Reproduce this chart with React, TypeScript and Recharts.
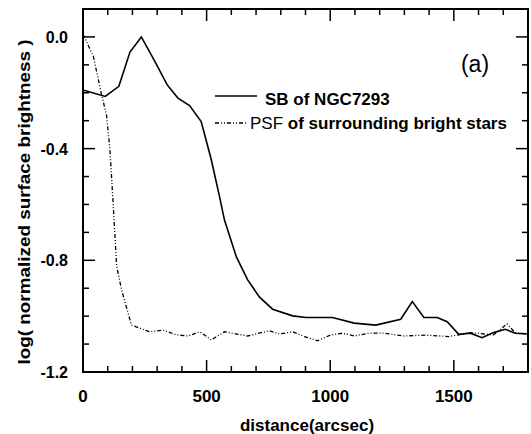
import React from "react";
import { LineChart, Line, XAxis, YAxis } from "recharts";

// SB of NGC7293 (solid)
const sbDist = [0, 90, 145, 190, 236, 290, 340, 384, 431, 478, 519, 552, 572, 620, 666, 714, 767, 848, 902, 1009, 1097, 1184, 1285, 1332, 1379, 1433, 1473, 1520, 1567, 1614, 1661, 1708, 1748, 1800];
const sbVal = [-0.19, -0.213, -0.177, -0.054, 0.0, -0.087, -0.171, -0.219, -0.246, -0.303, -0.44, -0.571, -0.655, -0.787, -0.87, -0.932, -0.975, -0.999, -1.005, -1.005, -1.025, -1.032, -1.011, -0.948, -1.005, -1.005, -1.02, -1.065, -1.061, -1.077, -1.059, -1.047, -1.061, -1.064];

// PSF of surrounding bright stars (dash-dot-dot)
const psfDist = [0, 42, 75, 95, 109, 121, 136, 156, 196, 270, 324, 378, 425, 472, 519, 572, 620, 666, 754, 794, 848, 895, 949, 1003, 1050, 1097, 1157, 1218, 1298, 1386, 1480, 1567, 1661, 1715, 1748, 1800];
const psfVal = [0.01, -0.07, -0.207, -0.279, -0.404, -0.583, -0.82, -0.906, -1.032, -1.056, -1.05, -1.067, -1.071, -1.056, -1.085, -1.056, -1.064, -1.071, -1.052, -1.064, -1.056, -1.073, -1.088, -1.067, -1.061, -1.071, -1.061, -1.061, -1.071, -1.068, -1.073, -1.059, -1.067, -1.028, -1.059, -1.064];

const xTicks = [0, 100, 200, 300, 400, 500, 600, 700, 800, 900, 1000, 1100, 1200, 1300, 1400, 1500, 1600, 1700, 1800];
const xLabels = [0, 500, 1000, 1500];
const yTicks = [-1.2, -1.1, -1.0, -0.9, -0.8, -0.7, -0.6, -0.5, -0.4, -0.3, -0.2, -0.1, 0.0];
const yLabels = ["-1.2", "-0.8", "-0.4", "0.0"];

const sbData = sbDist.map((x, i) => ({ dist: x, val: sbVal[i] }));
const psfData = psfDist.map((x, i) => ({ dist: x, val: psfVal[i] }));

const FONT = "Arial, Liberation Sans, sans-serif";
const X_DOMAIN = [0, 1800];
const Y_DOMAIN = [-1.2, 0.1];

// plot box (also drives the chart margins)
const W = 531;
const H = 434;
const LEFT = 83;
const TOP = 9;
const RIGHT = 528;
const BOTTOM = 372;

const findLabel = (v: number) => yLabels.find((l) => Math.abs(parseFloat(l) - v) < 1e-6);
const xPos = (v: number) => LEFT + ((v - X_DOMAIN[0]) / (X_DOMAIN[1] - X_DOMAIN[0])) * (RIGHT - LEFT);
const yPos = (v: number) => TOP + ((Y_DOMAIN[1] - v) / (Y_DOMAIN[1] - Y_DOMAIN[0])) * (BOTTOM - TOP);

const BottomTick = (props: any) => {
  const { x, y, payload } = props;
  if (!xLabels.includes(payload.value)) return <g />;
  return (
    <text x={x} y={y + 30} textAnchor="middle" fontFamily={FONT} fontWeight="bold" fontSize={17} fill="#000">
      {payload.value}
    </text>
  );
};

const LeftTick = (props: any) => {
  const { x, y, payload } = props;
  const label = findLabel(payload.value);
  if (!label) return <g />;
  return (
    <text x={x - 15} y={y + 6} textAnchor="end" fontFamily={FONT} fontWeight="bold" fontSize={16} fill="#000">
      {label}
    </text>
  );
};

// frame with inward ticks on all four sides, legend, axis titles, panel tag
const Overlay = () => (
  <svg width={W} height={H} style={{ position: "absolute", left: 0, top: 0, pointerEvents: "none" }}>
    <rect x={LEFT} y={TOP} width={RIGHT - LEFT} height={BOTTOM - TOP} fill="none" stroke="#000" strokeWidth={2} />
    {xTicks.map((v) => {
      const px = xPos(v);
      const len = v % 500 === 0 ? 12 : 6;
      return (
        <g key={`x${v}`}>
          <line x1={px} y1={BOTTOM} x2={px} y2={BOTTOM - len} stroke="#000" strokeWidth={1.5} />
          <line x1={px} y1={TOP} x2={px} y2={TOP + len} stroke="#000" strokeWidth={1.5} />
        </g>
      );
    })}
    {yTicks.map((v) => {
      const py = yPos(v);
      const len = findLabel(v) ? 12 : 6;
      return (
        <g key={`y${v}`}>
          <line x1={LEFT} y1={py} x2={LEFT + len} y2={py} stroke="#000" strokeWidth={1.5} />
          <line x1={RIGHT} y1={py} x2={RIGHT - len} y2={py} stroke="#000" strokeWidth={1.5} />
        </g>
      );
    })}
    <line x1={215} y1={96} x2={257} y2={96} stroke="#000" strokeWidth={1.6} />
    <text x={265} y={105} fontFamily={FONT} fontWeight="bold" fontSize={17} fill="#000">
      SB of NGC7293
    </text>
    <line x1={215} y1={123} x2={248} y2={123} stroke="#000" strokeWidth={1.3} strokeDasharray="4 2 1 2 1 2" />
    <text x={250} y={129} fontFamily={FONT} fontSize={17} fill="#000">
      PSF <tspan fontWeight="bold">of surrounding bright stars</tspan>
    </text>
    <text x={475} y={72} textAnchor="middle" fontFamily={FONT} fontSize={23} fill="#000">
      (a)
    </text>
    <text x={307} y={431} textAnchor="middle" fontFamily={FONT} fontWeight="bold" fontSize={17} fill="#000">
      distance(arcsec)
    </text>
    <text
      x={0}
      y={0}
      transform="translate(30, 202) rotate(-90)"
      textAnchor="middle"
      fontFamily={FONT}
      fontWeight="bold"
      fontSize={17}
      textLength={325}
      lengthAdjust="spacingAndGlyphs"
      fill="#000"
    >
      log( normalized surface brightness )
    </text>
  </svg>
);

export default function App() {
  return (
    <div style={{ position: "absolute", left: 0, top: 0, width: W, height: H, background: "#fff" }}>
      <LineChart width={W} height={H} margin={{ top: TOP, right: W - RIGHT, left: 0, bottom: 0 }}>
        <XAxis
          dataKey="dist"
          type="number"
          domain={X_DOMAIN}
          ticks={xTicks}
          height={H - BOTTOM}
          tickSize={0}
          tickMargin={0}
          tickLine={false}
          interval={0}
          axisLine={{ stroke: "#000", strokeWidth: 2 }}
          tick={BottomTick}
        />
        <YAxis
          type="number"
          domain={Y_DOMAIN}
          ticks={yTicks}
          width={LEFT}
          tickSize={0}
          tickMargin={0}
          tickLine={false}
          interval={0}
          axisLine={{ stroke: "#000", strokeWidth: 2 }}
          tick={LeftTick}
        />
        <Line
          data={sbData}
          dataKey="val"
          name="SB of NGC7293"
          type="linear"
          stroke="#000"
          strokeWidth={1.6}
          dot={false}
          isAnimationActive={false}
        />
        <Line
          data={psfData}
          dataKey="val"
          name="PSF of surrounding bright stars"
          type="linear"
          stroke="#000"
          strokeWidth={1.3}
          strokeDasharray="4 2 1 2 1 2"
          dot={false}
          isAnimationActive={false}
        />
      </LineChart>
      <Overlay />
    </div>
  );
}
